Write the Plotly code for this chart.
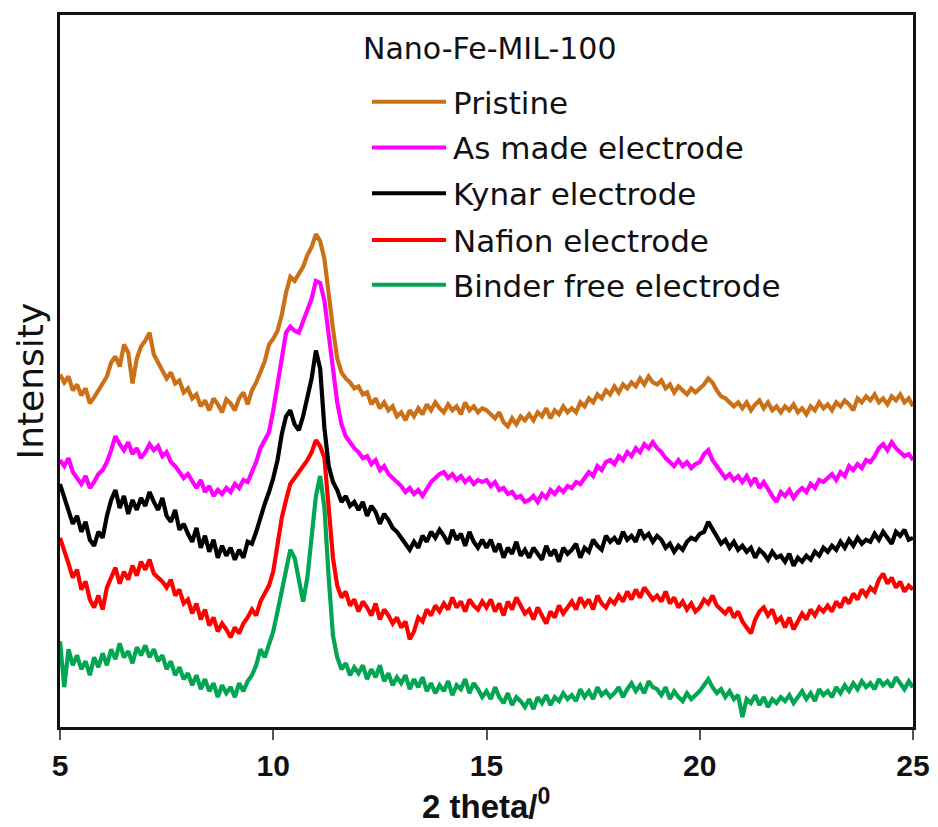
import numpy as np
import plotly.graph_objects as go

# ---------------- data ----------------
two_theta = np.round(np.arange(5.0, 25.0001, 0.1), 1)  # 201 points, 5..25 deg

series_names = ["Pristine", "As made electrode", "Kynar electrode",
                "Nafion electrode", "Binder free electrode"]
series_colors = ["#CC7017", "#FF00FF", "#000000", "#FF0000", "#00A651"]

pristine = [
    354, 346, 352, 338, 344, 333, 340, 325, 331, 338,
    345, 352, 366, 372, 362, 384, 376, 345, 370, 382,
    388, 396, 374, 366, 358, 350, 356, 345, 348, 336,
    340, 330, 334, 322, 328, 318, 330, 324, 316, 329,
    325, 318, 330, 336, 324, 338, 346, 358, 367, 384,
    390, 398, 414, 436, 452, 448, 456, 462, 474, 482,
    495, 488, 470, 432, 400, 370, 356, 350, 346, 340,
    342, 334, 336, 324, 330, 320, 326, 318, 322, 312,
    316, 308, 318, 312, 320, 314, 324, 318, 326, 320,
    316, 324, 318, 322, 314, 326, 318, 322, 316, 320,
    318, 314, 310, 316, 306, 302, 310, 304, 312, 308,
    314, 308, 316, 312, 320, 310, 318, 314, 322, 316,
    320, 316, 326, 322, 330, 326, 334, 330, 338, 334,
    342, 336, 344, 340, 346, 342, 350, 344, 352, 346,
    344, 348, 340, 344, 336, 342, 338, 334, 340, 336,
    340, 344, 350, 346, 338, 332, 330, 326, 322, 326,
    320, 326, 318, 324, 328, 320, 326, 318, 322, 316,
    322, 318, 324, 316, 320, 314, 322, 318, 326, 320,
    324, 318, 326, 322, 328, 324, 318, 330, 326, 332,
    328, 334, 326, 330, 324, 332, 328, 334, 326, 330,
    322,
]

as_made = [
    268, 262, 270, 256, 250, 244, 252, 240, 246, 254,
    258, 266, 278, 292, 284, 278, 286, 274, 280, 270,
    276, 284, 278, 282, 272, 276, 266, 262, 256, 250,
    254, 246, 240, 248, 236, 242, 232, 238, 234, 240,
    236, 244, 240, 248, 246, 256, 266, 280, 288, 296,
    318, 346, 370, 396, 402, 398, 396, 408, 420, 430,
    448, 446, 428, 392, 356, 326, 304, 292, 286, 280,
    276, 270, 272, 264, 268, 258, 262, 254, 250, 246,
    242, 236, 240, 234, 238, 232, 240, 246, 250, 254,
    256, 250, 254, 248, 252, 246, 250, 244, 248, 246,
    248, 242, 246, 238, 240, 234, 236, 230, 232, 226,
    228, 232, 226, 234, 230, 238, 234, 240, 236, 242,
    240, 246, 244, 250, 256, 252, 262, 258, 266, 268,
    264, 272, 268, 276, 272, 280, 276, 284, 280, 286,
    280, 276, 270, 266, 262, 268, 262, 266, 260, 264,
    266, 274, 278, 268, 262, 256, 250, 254, 248, 252,
    246, 252, 244, 250, 240, 246, 238, 232, 226, 236,
    232, 238, 230, 236, 240, 236, 244, 240, 248, 246,
    250, 254, 248, 256, 252, 262, 258, 264, 260, 268,
    266, 272, 280, 284, 278, 286, 280, 276, 272, 274,
    268,
]

kynar = [
    244, 230, 218, 204, 212, 196, 206, 188, 182, 196,
    190, 212, 228, 238, 220, 232, 214, 228, 218, 230,
    222, 236, 226, 218, 230, 212, 206, 218, 198, 204,
    194, 186, 200, 180, 192, 176, 188, 170, 182, 172,
    180, 168, 178, 170, 186, 184, 196, 212, 224, 236,
    250, 268, 294, 312, 318, 304, 298, 312, 330, 350,
    378, 360, 300, 262, 246, 238, 226, 232, 222, 226,
    218, 226, 212, 222, 216, 204, 214, 208, 200, 196,
    190, 184, 178, 186, 180, 192, 186, 196, 190, 198,
    192, 184, 198, 188, 194, 182, 196, 186, 180, 188,
    180, 188, 176, 184, 170, 180, 174, 186, 172, 178,
    170, 180, 174, 168, 182, 172, 178, 166, 180, 174,
    178, 184, 170, 180, 176, 188, 182, 178, 192, 186,
    190, 184, 196, 188, 192, 186, 198, 190, 194, 186,
    192, 188, 180, 184, 176, 182, 178, 186, 190, 188,
    194, 196, 206, 198, 190, 184, 188, 180, 186, 178,
    182, 176, 180, 170, 178, 174, 168, 176, 170, 172,
    166, 174, 162, 170, 166, 172, 168, 176, 172, 180,
    176, 182, 178, 186, 180, 188, 182, 190, 184, 188,
    186, 194, 188, 196, 190, 184, 196, 192, 198, 188,
    190,
]

nafion = [
    190, 178, 164, 150, 158, 138, 146, 128, 120, 132,
    118, 140, 150, 160, 144, 156, 148, 162, 152, 166,
    158, 168, 154, 150, 146, 140, 148, 132, 138, 124,
    128, 114, 124, 108, 118, 102, 110, 96, 104, 98,
    90, 100, 94, 104, 110, 118, 112, 126, 134, 142,
    156, 182, 210, 228, 244, 250, 256, 262, 268, 276,
    288, 282, 270, 220, 170, 142, 130, 136, 122, 128,
    116, 126, 120, 112, 124, 108, 118, 112, 104, 110,
    100, 106, 88, 96, 110, 106, 118, 112, 122, 116,
    124, 118, 130, 120, 126, 116, 128, 122, 118, 126,
    120, 128, 116, 124, 112, 126, 118, 130, 122, 114,
    118, 108, 120, 112, 104, 116, 110, 122, 114, 120,
    126, 118, 130, 122, 128, 118, 132, 124, 120, 128,
    124, 132, 126, 136, 128, 138, 130, 140, 134, 128,
    132, 126, 136, 124, 130, 120, 126, 118, 124, 116,
    120, 128, 124, 132, 122, 118, 114, 120, 110, 116,
    106, 100, 94, 108, 116, 120, 112, 118, 106, 110,
    100, 110, 98, 106, 114, 108, 118, 112, 120, 116,
    122, 116, 126, 120, 130, 124, 134, 128, 138, 132,
    140, 136, 148, 154, 144, 150, 140, 146, 136, 142,
    138,
]

binder_free = [
    86, 40, 78, 62, 72, 58, 66, 52, 70, 60,
    74, 62, 78, 68, 84, 70, 76, 64, 80, 72,
    82, 70, 78, 66, 72, 58, 66, 52, 60, 48,
    54, 42, 52, 38, 48, 36, 44, 30, 42, 34,
    40, 30, 44, 36, 46, 52, 62, 78, 70, 84,
    96, 116, 136, 160, 178, 170, 146, 126, 150, 190,
    232, 252, 220, 150, 92, 70, 58, 64, 52, 60,
    54, 62, 48, 58, 50, 62, 46, 54, 42, 50,
    44, 52, 38, 48, 40, 50, 36, 44, 34, 42,
    36, 46, 32, 42, 38, 48, 34, 44, 38, 30,
    36, 28, 40, 30, 24, 34, 22, 30, 26, 20,
    28, 18, 30, 24, 32, 22, 30, 26, 34, 28,
    32, 26, 38, 30, 36, 28, 40, 32, 36, 30,
    34, 40, 30, 38, 44, 36, 42, 34, 46, 40,
    38, 32, 40, 28, 36, 30, 26, 34, 28, 32,
    36, 42, 48, 40, 34, 38, 30, 36, 28, 32,
    10, 28, 24, 32, 22, 30, 20, 28, 24, 30,
    26, 32, 24, 30, 36, 28, 34, 26, 38, 32,
    36, 30, 40, 34, 42, 36, 44, 38, 46, 40,
    44, 38, 48, 42, 46, 40, 50, 44, 38, 46,
    40,
]

x_ticks = [5, 10, 15, 20, 25]
legend_title = "Nano-Fe-MIL-100"

# ---------------- figure ----------------
all_series = [pristine, as_made, kynar, nafion, binder_free]

fig = go.Figure()
# draw bottom-most first so upper curves sit on top, like the reference
for name, color, vals in reversed(list(zip(series_names, series_colors, all_series))):
    fig.add_trace(go.Scatter(
        x=two_theta, y=vals, mode="lines", name=name,
        line=dict(color=color, width=4.2), showlegend=False,
    ))

# the page body adds an 8px offset; size the figure so the plot area
# lands on the same page pixels as the reference (60..913 x 12..727)
OFF = 8
W, H = 938 - OFF, 827 - OFF
L, R, T, B = 60 - OFF, 25, 12 - OFF, 100
pw, ph = W - L - R, H - T - B


def px_x(p):  # page pixel -> paper fraction
    return (p - OFF - L) / pw


def px_y(p):
    return (H - B - (p - OFF)) / ph


# manual legend (long line samples as in the reference)
row_y = [99, 145, 191, 238, 283]
shapes = []
annotations = []
for name, color, py in zip(series_names, series_colors, row_y):
    shapes.append(dict(type="line", xref="paper", yref="paper",
                       x0=px_x(372), x1=px_x(446), y0=px_y(py), y1=px_y(py),
                       line=dict(color=color, width=4)))
    annotations.append(dict(xref="paper", yref="paper", x=px_x(451), y=px_y(py + 1),
                            text=name, showarrow=False, xanchor="left", yanchor="middle",
                            font=dict(family="DejaVu Sans", size=31, color="#111111")))
annotations.append(dict(xref="paper", yref="paper", x=px_x(361), y=px_y(46),
                        text=legend_title, showarrow=False, xanchor="left", yanchor="middle",
                        font=dict(family="DejaVu Sans", size=30, color="#111111")))
# axis titles
annotations.append(dict(xref="paper", yref="paper", x=px_x(486), y=px_y(826),
                        text="<b>2 theta/<sup>0</sup></b>", showarrow=False,
                        xanchor="center", yanchor="bottom", borderpad=0,
                        font=dict(family="Liberation Sans", size=33, color="#111111")))
annotations.append(dict(xref="paper", yref="paper", x=px_x(30), y=px_y(380),
                        text="Intensity", showarrow=False, textangle=-90,
                        xanchor="center", yanchor="middle",
                        font=dict(family="DejaVu Sans", size=36, color="#111111")))

fig.update_layout(
    width=W, height=H,
    margin=dict(l=L, r=R, t=T, b=B, pad=0),
    paper_bgcolor="white", plot_bgcolor="white",
    shapes=shapes, annotations=annotations,
    xaxis=dict(range=[5, 25], tickvals=x_ticks, ticktext=[f"<b>{v}</b>" for v in x_ticks],
               ticks="outside", ticklen=10, tickwidth=2, tickcolor="#555555",
               ticklabelstandoff=0,
               showline=True, linecolor="#111111", linewidth=3, mirror=True,
               showgrid=False, zeroline=False,
               tickfont=dict(family="Liberation Sans", size=30, color="#111111"),
               ),
    yaxis=dict(range=[0, 715], showticklabels=False, ticks="",
               showline=True, linecolor="#111111", linewidth=3, mirror=True,
               showgrid=False, zeroline=False),
)

fig.write_html("out.html")
